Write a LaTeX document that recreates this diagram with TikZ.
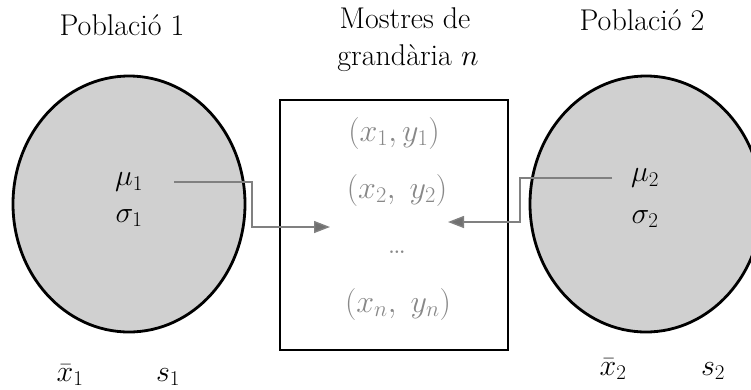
\RequirePackage{fix-cm}
\documentclass[tikz,border=0pt]{standalone}
\usepackage{xcolor}
\usetikzlibrary{shapes.geometric, arrows.meta, positioning}
\definecolor{popfill}{RGB}{208, 208, 208}
\definecolor{linkgray}{RGB}{128, 128, 128}
\definecolor{tipgray}{RGB}{112, 112, 112}
\definecolor{pairgray}{RGB}{136, 136, 136}

\begin{document}
\begin{tikzpicture}[x=1pt, y=-1pt,
			every node/.style={font=\fontsize{30}{36}\selectfont, inner sep=0pt},
			population/.style={ellipse, draw=black, line width=2.8pt, fill=popfill, minimum width=232pt, minimum height=256pt},
			samplebox/.style={draw=black, line width=1.8pt, minimum width=228pt, minimum height=250pt},
			pair/.style={text=pairgray, font=\fontsize{32}{38}\selectfont},
			link/.style={draw=linkgray, line width=1.4pt, -{Triangle[length=16pt, width=12pt, fill=tipgray]}}
			]
			\clip (0,0) rectangle (751,389);
			
			% Populations
			\node[population] (pop1) at (129,204) {};
			\node[population] (pop2) at (646,204) {};
			\node[anchor=base] (tit1) at (122,35) {Població 1};
			\node[anchor=base] (tit2) at (642,30) {Població 2};
			
			% Parameters
			\node (mu1) at (129,182) {$\mu_1$};
			\node (sg1) at (129,218) {$\sigma_1$};
			\node (mu2) at (645,178) {$\mu_2$};
			\node (sg2) at (645,219) {$\sigma_2$};
			
			% Samples
			\node[samplebox] (smp) at (394,225) {};
			\node[anchor=base] (titm1) at (405,28) {Mostres de};
			\node[anchor=base] (titm2) at (408,65) {grandària $n$};
			\node[pair] (pr1) at (394,133) {$(x_1, y_1)$};
			\node[pair] (pr2) at (397,190) {$(x_2,\; y_2)$};
			\node[pair, anchor=base] (prd) at (397,253) {\ldots};
			\node[pair] (prn) at (398,304) {$(x_n,\; y_n)$};
			
			% Statistics
			\node[anchor=base] (xb1) at (70,381) {$\bar{x}_1$};
			\node[anchor=base] (sd1) at (168,381) {$s_1$};
			\node[anchor=base] (xb2) at (613,375) {$\bar{x}_2$};
			\node[anchor=base] (sd2) at (713,375) {$s_2$};
			
			% Connections
			\coordinate (from1) at (174,182);
			\coordinate (to1) at (330,227);
			\coordinate (from2) at (612,178);
			\coordinate (to2) at (448,222);
			\draw[link] (from1) -- ++(78,0) |- (to1);
			\draw[link] (from2) -- ++(-92,0) |- (to2);
		\end{tikzpicture}
\end{document}
